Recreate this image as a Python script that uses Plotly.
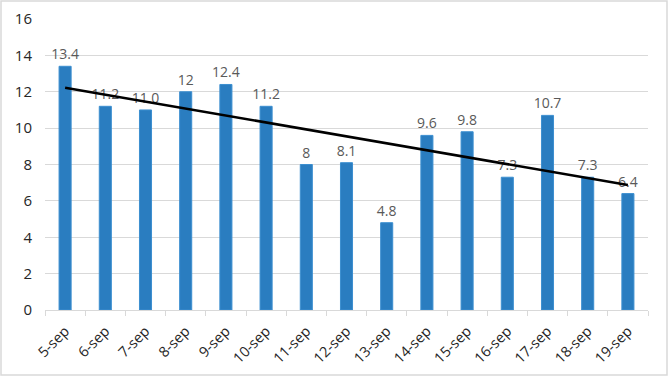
import numpy as np
import plotly.graph_objects as go

categories = ["5-sep", "6-sep", "7-sep", "8-sep", "9-sep", "10-sep", "11-sep", "12-sep",
              "13-sep", "14-sep", "15-sep", "16-sep", "17-sep", "18-sep", "19-sep"]
values = [13.4, 11.2, 11.0, 12, 12.4, 11.2, 8, 8.1, 4.8, 9.6, 9.8, 7.3, 10.7, 7.3, 6.4]
labels = ["13.4", "11.2", "11.0", "12", "12.4", "11.2", "8", "8.1", "4.8", "9.6",
          "9.8", "7.3", "10.7", "7.3", "6.4"]

# linear trendline (as in Excel's chart trendline)
idx = np.arange(len(values))
slope, intercept = np.polyfit(idx, values, 1)
trend = slope * idx + intercept

fig = go.Figure()
fig.add_trace(go.Bar(
    x=categories, y=values, text=labels, textposition="outside",
    textfont=dict(size=14, color="#595959"),
    marker=dict(color="#2A7DC0", line=dict(color="#3C8FD0", width=1)),
    cliponaxis=False, showlegend=False,
))
fig.add_trace(go.Scatter(
    x=categories, y=trend, mode="lines",
    line=dict(color="black", width=2.5), showlegend=False, hoverinfo="skip",
))

L, R, T, B, W, H = 45, 20, 19, 66, 668, 376
pw, ph = W - L - R, H - T - B
fig.update_layout(
    width=W, height=H,
    margin=dict(l=L, r=R, t=T, b=B, autoexpand=False),
    paper_bgcolor="white", plot_bgcolor="white",
    font=dict(family="Open Sans, Lato, sans-serif", color="#333333", size=13),
    bargap=0.7,
    uniformtext=dict(minsize=14, mode="show"),
    shapes=[dict(type="rect", xref="paper", yref="paper",
                 x0=-(L - 1) / pw, x1=1 + (R - 1) / pw,
                 y0=-(B - 1) / ph, y1=1 + (T - 1) / ph,
                 line=dict(color="#D9D9D9", width=1.5))],
)
fig.update_yaxes(range=[0, 16], dtick=2, showgrid=True, gridcolor="#D9D9D9",
                 gridwidth=1, zeroline=False, showline=False,
                 tickfont=dict(size=15, color="#262626"), ticks="", ticklabelstandoff=12)
fig.update_xaxes(showline=True, linecolor="#D9D9D9", linewidth=1,
                 ticks="outside", tickson="boundaries", ticklen=5, tickcolor="#D9D9D9",
                 tickangle=-45, tickfont=dict(size=14.5, color="#262626"),
                 ticklabelstandoff=6)

fig.write_html("out.html", config={"displayModeBar": False},
               post_script="document.body.style.margin='0';")
